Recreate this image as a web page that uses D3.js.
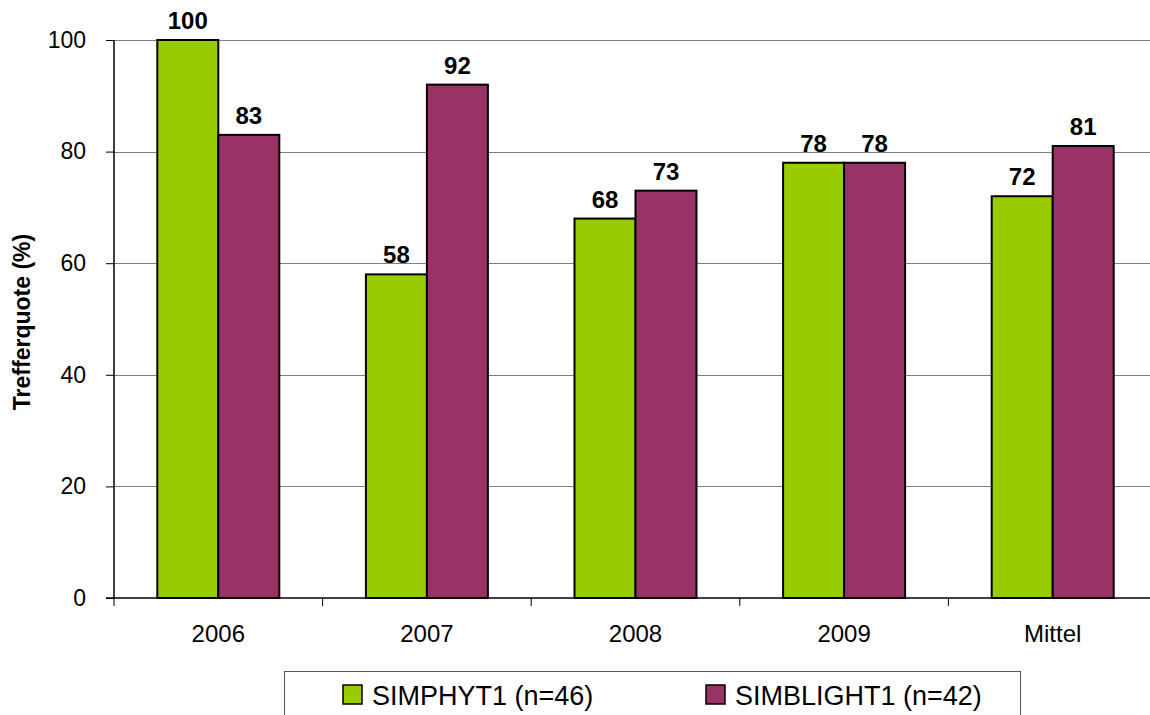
<!DOCTYPE html>
<html>
<head>
<meta charset="utf-8">
<script src="https://cdn.jsdelivr.net/npm/d3@7"></script>
<style>
  html, body { margin: 0; padding: 0; background: #fff; }
  svg { display: block; font-family: "Liberation Sans", Arial, sans-serif; }
</style>
</head>
<body>
<svg id="chart" width="1150" height="715"></svg>
<script>
// Trefferquote per year and overall mean for the two models
const categories = ["2006", "2007", "2008", "2009", "Mittel"];
const simphyt = [100, 58, 68, 78, 72];
const simblight = [83, 92, 73, 78, 81];
const seriesNames = ["SIMPHYT1 (n=46)", "SIMBLIGHT1 (n=42)"];
const seriesColors = ["#99cc00", "#993366"];
const yTicks = [0, 20, 40, 60, 80, 100];

const svg = d3.select("#chart");
const margin = { left: 114, top: 40, bottom: 598 };
const plotRight = 1157;
const FONT = "Liberation Sans, Arial, sans-serif";

const x = d3.scaleBand().domain(categories).range([margin.left, plotRight]).paddingInner(0).paddingOuter(0);
const y = d3.scaleLinear().domain([0, 100]).range([margin.bottom, margin.top]);
const xSub = d3.scaleBand().domain([0, 1]).range([0, x.bandwidth()]).paddingInner(0).paddingOuter(0.71);

// horizontal gridlines
svg.append("g")
  .selectAll("line")
  .data(yTicks.filter(d => d > 0))
  .join("line")
  .attr("x1", margin.left)
  .attr("x2", 1150)
  .attr("y1", d => Math.round(y(d)) + 0.5)
  .attr("y2", d => Math.round(y(d)) + 0.5)
  .attr("stroke", "#808080")
  .attr("stroke-width", 1);

// bars
const series = [simphyt, simblight];
const rows = [];
categories.forEach((c, i) => {
  series.forEach((s, k) => rows.push({ cat: c, k, v: s[i] }));
});

svg.append("g")
  .selectAll("rect")
  .data(rows)
  .join("rect")
  .attr("x", d => x(d.cat) + xSub(d.k))
  .attr("y", d => y(d.v))
  .attr("width", xSub.bandwidth())
  .attr("height", d => y(0) - y(d.v))
  .attr("fill", d => seriesColors[d.k])
  .attr("stroke", "#000")
  .attr("stroke-width", 2);

// value labels
svg.append("g")
  .selectAll("text")
  .data(rows)
  .join("text")
  .attr("x", d => x(d.cat) + xSub(d.k) + xSub.bandwidth() / 2)
  .attr("y", d => y(d.v) - 11)
  .attr("text-anchor", "middle")
  .attr("font-family", FONT)
  .attr("font-size", 24)
  .attr("font-weight", "bold")
  .attr("fill", "#000")
  .text(d => d.v);

// y axis
const yAxis = d3.axisLeft(y).tickValues(yTicks).tickSize(8).tickPadding(20);
const gy = svg.append("g").attr("transform", `translate(${margin.left},0)`).call(yAxis);
gy.select(".domain").attr("stroke", "#000").attr("stroke-width", 1.5).attr("d", `M0,${margin.top}V${margin.bottom}`);
gy.selectAll(".tick line").attr("stroke", "#000");
gy.selectAll(".tick text").attr("font-size", 23).attr("fill", "#000").attr("font-family", FONT);

// x axis
const xAxis = d3.axisBottom(x).tickSize(0).tickPadding(27);
const gx = svg.append("g").attr("transform", `translate(0,${margin.bottom})`).call(xAxis);
gx.select(".domain").attr("stroke", "#000").attr("stroke-width", 1.5).attr("d", `M${margin.left - 8},0H1150`);
gx.selectAll(".tick text").attr("font-size", 24).attr("fill", "#000").attr("font-family", FONT);

// category separator ticks
svg.append("g")
  .selectAll("line")
  .data(categories)
  .join("line")
  .attr("x1", d => x(d))
  .attr("x2", d => x(d))
  .attr("y1", margin.bottom)
  .attr("y2", margin.bottom + 8)
  .attr("stroke", "#000")
  .attr("stroke-width", 1);

// y axis title
svg.append("text")
  .attr("transform", `translate(30,${(232 + 412) / 2}) rotate(-90)`)
  .attr("text-anchor", "middle")
  .attr("font-family", FONT)
  .attr("font-size", 23)
  .attr("font-weight", "bold")
  .attr("fill", "#000")
  .text("Trefferquote (%)");

// legend
const legend = svg.append("g");
legend.append("rect")
  .attr("x", 284.5).attr("y", 671.5)
  .attr("width", 736).attr("height", 60)
  .attr("fill", "#fff").attr("stroke", "#555").attr("stroke-width", 1);

const legendX = [343, 706];
seriesNames.forEach((name, k) => {
  legend.append("rect")
    .attr("x", legendX[k]).attr("y", 685)
    .attr("width", 19).attr("height", 19)
    .attr("fill", seriesColors[k]).attr("stroke", "#000").attr("stroke-width", 1.5);
  legend.append("text")
    .attr("x", legendX[k] + 29).attr("y", 705)
    .attr("font-family", FONT)
    .attr("font-size", 27)
    .attr("fill", "#000")
    .text(name);
});
</script>
</body>
</html>
